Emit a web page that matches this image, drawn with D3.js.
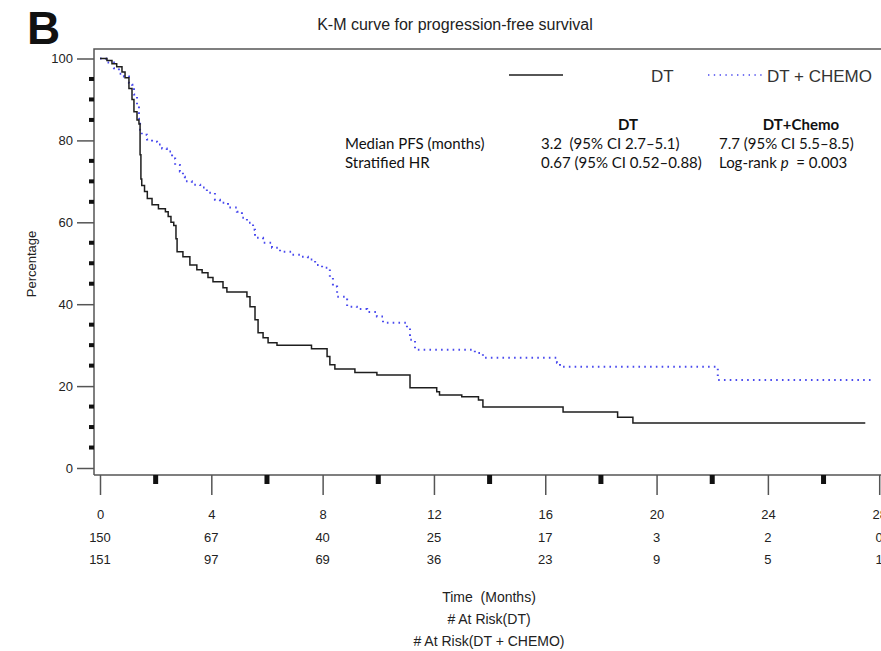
<!DOCTYPE html>
<html>
<head>
<meta charset="utf-8">
<script src="https://cdn.jsdelivr.net/npm/d3@7"></script>
<style>
  html, body { margin: 0; padding: 0; background: #fff; overflow: hidden; }
  svg { display: block; }
  .ax text { font-family: "Liberation Sans", Arial, sans-serif; font-size: 13px; fill: #222; }
</style>
</head>
<body>
<svg id="chart" width="881" height="651"></svg>
<script>
// Kaplan-Meier step points (time in months, % progression-free)
const dtTime = [0, 0.25, 0.43, 0.6, 0.79, 0.9, 1.04, 1.15, 1.22, 1.33, 1.4, 1.44, 1.47, 1.5, 1.6, 1.7, 1.87, 2.1, 2.35, 2.45, 2.55, 2.65, 2.73, 2.77, 2.98, 3.23, 3.48, 3.67, 3.88, 4.06, 4.42, 4.56, 5.28, 5.39, 5.57, 5.68, 5.86, 6.04, 6.36, 7.6, 8.16, 8.26, 8.44, 9.16, 9.95, 11.14, 12.1, 12.2, 13.0, 13.6, 13.76, 16.64, 18.6, 19.15, 27.5];
const dtSurv = [100, 99.5, 98.7, 98, 96.7, 95.3, 92.7, 90, 87, 85, 84, 76.5, 70.6, 69, 67.5, 65.8, 64.3, 63.3, 62.6, 61.4, 60, 59.2, 56, 52.8, 51.6, 49.6, 48.4, 47.7, 46.5, 45.5, 44, 43, 41.8, 39.4, 36.2, 33, 31.8, 30.6, 30, 29.1, 27.2, 25.2, 24.2, 23.3, 22.7, 19.6, 18.6, 17.8, 17.4, 16.6, 14.9, 13.7, 12.4, 11, 11];

const chemoTime = [0, 0.22, 0.5, 0.68, 0.86, 1.04, 1.15, 1.22, 1.33, 1.4, 1.44, 1.5, 1.69, 1.87, 2.05, 2.23, 2.4, 2.59, 2.7, 2.87, 2.98, 3.05, 3.3, 3.6, 3.84, 4.13, 4.31, 4.6, 4.92, 5.1, 5.28, 5.5, 5.57, 5.86, 6.18, 6.47, 6.9, 7.19, 7.47, 7.73, 7.98, 8.26, 8.37, 8.52, 8.88, 9.23, 9.6, 9.95, 10.17, 11.03, 11.14, 11.32, 13.47, 13.76, 16.42, 16.53, 22.2, 27.8];
const chemoSurv = [100, 99, 97.6, 96.3, 95.6, 94, 93.6, 91.2, 88.3, 85.3, 82.6, 81.4, 80.2, 79.7, 79, 78, 77.3, 75.6, 74, 72.4, 71.1, 70, 69.2, 68.5, 67.2, 65.5, 64.8, 63.6, 62.6, 61.1, 59.9, 58.2, 56.2, 55, 53.8, 52.8, 52.1, 51.6, 50.9, 49.6, 48.9, 46.5, 44.3, 41.8, 39.4, 38.8, 38.1, 37, 35.5, 34.2, 31.3, 28.9, 28.1, 26.9, 25.7, 24.7, 21.5, 21.5];

// Axis ticks and numbers at risk
const xMajor = [0, 4, 8, 12, 16, 20, 24, 28];
const xMinor = [2, 6, 10, 14, 18, 22, 26];
const yMajor = [0, 20, 40, 60, 80, 100];
const yMinor = [5, 10, 15, 25, 30, 35, 45, 50, 55, 65, 70, 75, 85, 90, 95];
const atRiskDT = [150, 67, 40, 25, 17, 3, 2, 0];
const atRiskChemo = [151, 97, 69, 36, 23, 9, 5, 1];

const seriesNames = ["DT", "DT + CHEMO"];
const statHeaders = ["DT", "DT+Chemo"];
const statRowLabels = ["Median PFS (months)", "Stratified HR"];
const statDT = ["3.2  (95% CI 2.7\u20135.1)", "0.67 (95% CI 0.52\u20130.88)"];
const statChemo = ["7.7 (95% CI 5.5\u20138.5)", null];
const footLines = ["Time  (Months)", "# At Risk(DT)", "# At Risk(DT + CHEMO)"];

const svg = d3.select("#chart");
const sans = "'Liberation Sans', Arial, sans-serif";
const calib = "Lato, 'Open Sans', sans-serif";

const x = d3.scaleLinear().domain([0, 28]).range([100, 879.2]);
const y = d3.scaleLinear().domain([0, 100]).range([468, 58.5]);

const frameLeft = 94, frameTop = 49, frameBottom = 475;

// panel letter and title
svg.append("text").attr("x", 27).attr("y", 44)
  .attr("font-family", sans).attr("font-weight", "bold").attr("font-size", 46)
  .attr("fill", "#111").text("B");
svg.append("text").attr("x", 455).attr("y", 30).attr("text-anchor", "middle")
  .attr("font-family", sans).attr("font-size", 16).attr("fill", "#222")
  .text("K-M curve for progression-free survival");

// plot frame
svg.append("path")
  .attr("d", `M${frameLeft},${frameBottom}V${frameTop}H${900}M${frameLeft},${frameBottom}H${900}`)
  .attr("fill", "none").attr("stroke", "#555").attr("stroke-width", 1.5);

// y axis
const yAx = svg.append("g").attr("class", "ax").attr("transform", `translate(${frameLeft},0)`)
  .call(d3.axisLeft(y).tickValues(yMajor).tickSize(17).tickPadding(4));
yAx.select(".domain").remove();
yAx.selectAll("line").attr("stroke", "#555").attr("stroke-width", 1.5);
svg.append("g").selectAll("rect").data(yMinor).join("rect")
  .attr("x", frameLeft - 5).attr("y", d => y(d) - 2)
  .attr("width", 5).attr("height", 4).attr("fill", "#111");

svg.append("text")
  .attr("transform", `translate(36,264) rotate(-90)`)
  .attr("text-anchor", "middle").attr("font-family", sans).attr("font-size", 13).attr("fill", "#222")
  .text("Percentage");

// x axis
const xAx = svg.append("g").attr("class", "ax").attr("transform", `translate(0,${frameBottom})`)
  .call(d3.axisBottom(x).tickValues(xMajor).tickSize(20).tickPadding(0));
xAx.select(".domain").remove();
xAx.selectAll("line").attr("stroke", "#555").attr("stroke-width", 1.5);
xAx.selectAll("text").attr("y", 39).attr("dy", "0.35em");
svg.append("g").selectAll("rect").data(xMinor).join("rect")
  .attr("x", d => x(d) - 2.5).attr("y", frameBottom)
  .attr("width", 5).attr("height", 9).attr("fill", "#111");

// numbers at risk
const riskRows = [atRiskDT, atRiskChemo];
riskRows.forEach((row, r) => {
  svg.append("g").attr("class", "ax").selectAll("text").data(row).join("text")
    .attr("x", (d, i) => x(xMajor[i])).attr("y", 537 + r * 22).attr("dy", "0.35em")
    .attr("text-anchor", "middle").text(d => d);
});

footLines.forEach((t, i) => {
  svg.append("text").attr("x", 489).attr("y", 597 + i * 22).attr("dy", "0.35em")
    .attr("text-anchor", "middle").attr("font-family", sans).attr("font-size", 14)
    .attr("xml:space", "preserve").attr("fill", "#222").text(t);
});

// survival curves
const line = d3.line().curve(d3.curveStepAfter).x(d => x(d[0])).y(d => y(d[1]));
const dtPts = dtTime.map((t, i) => [t, dtSurv[i]]);
const chemoPts = chemoTime.map((t, i) => [t, chemoSurv[i]]);

svg.append("path").datum(chemoPts).attr("d", line)
  .attr("fill", "none").attr("stroke", "#4a4aee").attr("stroke-width", 2)
  .attr("stroke-dasharray", "1.6,4.2");
svg.append("path").datum(dtPts).attr("d", line)
  .attr("fill", "none").attr("stroke", "#1e1e1e").attr("stroke-width", 1.5);

// legend
svg.append("line").attr("x1", 509).attr("x2", 563).attr("y1", 75).attr("y2", 75)
  .attr("stroke", "#1e1e1e").attr("stroke-width", 1.4);
svg.append("text").attr("x", 651).attr("y", 76).attr("dy", "0.35em")
  .attr("font-family", sans).attr("font-size", 17).attr("fill", "#333").text(seriesNames[0]);
svg.append("line").attr("x1", 708).attr("x2", 766).attr("y1", 75).attr("y2", 75)
  .attr("stroke", "#4a4aee").attr("stroke-width", 1.6).attr("stroke-dasharray", "1.4,4.4");
svg.append("text").attr("x", 767).attr("y", 76).attr("dy", "0.35em")
  .attr("font-family", sans).attr("font-size", 17).attr("fill", "#333").text(seriesNames[1]);

// statistics table
const stat = svg.append("g").attr("font-family", calib).attr("font-size", 15).attr("fill", "#111");
stat.append("text").attr("x", 628).attr("y", 125).attr("dy", "0.35em").attr("text-anchor", "middle")
  .attr("font-weight", "bold").text(statHeaders[0]);
stat.append("text").attr("x", 801).attr("y", 125).attr("dy", "0.35em").attr("text-anchor", "middle")
  .attr("font-weight", "bold").text(statHeaders[1]);
statRowLabels.forEach((t, i) => {
  stat.append("text").attr("x", 345).attr("y", 144 + i * 19).attr("dy", "0.35em").attr("xml:space", "preserve").text(t);
  stat.append("text").attr("x", 541).attr("y", 144 + i * 19).attr("dy", "0.35em").attr("xml:space", "preserve").text(statDT[i]);
});
stat.append("text").attr("x", 719).attr("y", 144).attr("dy", "0.35em").text(statChemo[0]);
const lr = stat.append("text").attr("x", 719).attr("y", 163).attr("dy", "0.35em").attr("xml:space", "preserve");
lr.append("tspan").text("Log-rank ");
lr.append("tspan").attr("font-style", "italic").text("p");
lr.append("tspan").text("  = 0.003");
</script>
</body>
</html>
